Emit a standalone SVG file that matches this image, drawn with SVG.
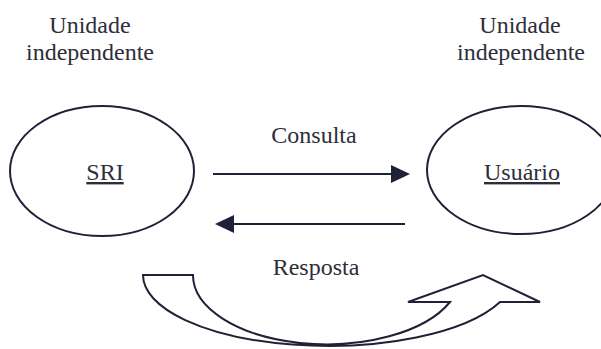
<svg xmlns="http://www.w3.org/2000/svg" width="601" height="349" viewBox="0 0 601 349">
<defs>
<style>
.t{font-family:"Liberation Serif","Times New Roman","DejaVu Serif",serif;font-size:24px;fill:#2e2e3a;text-anchor:middle}
.u{text-decoration:underline}
.n{fill:none;stroke:#1f2236;stroke-width:2}
.c{fill:none;stroke:#1f2236;stroke-width:2}
.h{fill:#1f2236;stroke:none}
.big{fill:#ffffff;stroke:#1f2236;stroke-width:2;stroke-linejoin:miter}
</style>
</defs>
<rect width="601" height="349" fill="#ffffff"/>
<g id="label-left">
<text class="t" x="90" y="33">Unidade</text>
<text class="t" x="90" y="60">independente</text>
</g>
<g id="label-right">
<text class="t" x="520" y="33">Unidade</text>
<text class="t" x="521" y="60">independente</text>
</g>
<g id="node-sri">
<ellipse class="n" cx="102" cy="171" rx="92" ry="65"/>
<text class="t u" x="105" y="180">SRI</text>
</g>
<g id="node-usuario">
<ellipse class="n" cx="521" cy="170" rx="94" ry="64"/>
<text class="t u" x="522" y="180">Usuário</text>
</g>
<g id="connectors">
<line class="c" x1="213" y1="174" x2="394" y2="174"/>
<polygon class="h" points="410,174 391,165 391,183"/>
<line class="c" x1="230" y1="224" x2="405" y2="224"/>
<polygon class="h" points="215,224 234,215 234,233"/>
<text class="t" x="314" y="143">Consulta</text>
<text class="t" x="316" y="275">Resposta</text>
<path class="big" d="M143,275 L193,275 A133.7,69 0 0 0 450,302 L408,302 L483,275 L540,302 L500,302 A185.5,71 0 0 1 143,275 Z"/>
</g>
</svg>
